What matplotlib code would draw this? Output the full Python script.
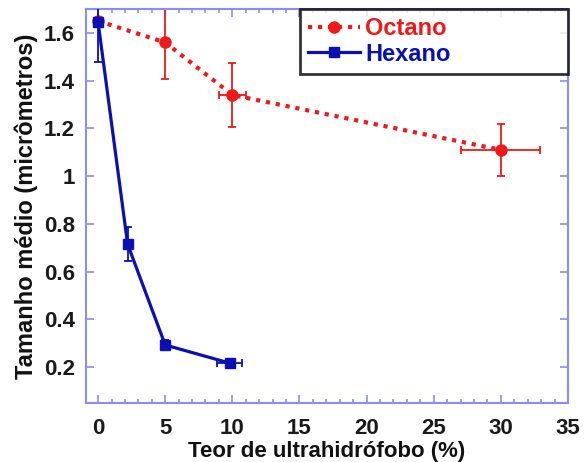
import numpy as np
import matplotlib.pyplot as plt
from matplotlib.ticker import MultipleLocator

# Octano series
oct_x = [0, 5, 10, 30]
oct_y = [1.65, 1.56, 1.34, 1.11]
oct_yerr = [0.0, 0.155, 0.135, 0.11]
oct_xerr = [0.0, 0.0, 1.0, 2.95]

# Hexano series
hex_x = [0, 2.2, 5, 9.8]
hex_y = [1.645, 0.715, 0.293, 0.217]
hex_yerr = [0.165, 0.07, 0.02, 0.015]
hex_xerr = [0.0, 0.0, 0.3, 0.95]

y_ticks = [0.2, 0.4, 0.6, 0.8, 1.0, 1.2, 1.4, 1.6]
y_ticklabels = ['0.2', '0.4', '0.6', '0.8', '1', '1.2', '1.4', '1.6']

plt.rcParams['font.family'] = ['Liberation Sans', 'DejaVu Sans']
plt.rcParams['font.weight'] = 'bold'

red = '#f01818'
blue = '#0a10b4'
spine_c = '#8c8cf5'

fig = plt.figure(figsize=(5.84, 4.62), dpi=100)
ax = fig.add_axes([86 / 584, 1 - 403 / 462, (568 - 86) / 584, (403 - 9) / 462])

# error bars first, then the lines with markers (legend uses the lines only)
ax.errorbar(oct_x, oct_y, yerr=oct_yerr, xerr=oct_xerr, fmt='none', ecolor=red,
            capsize=3, elinewidth=1.3, capthick=1.3, zorder=2)
ax.errorbar(hex_x, hex_y, yerr=hex_yerr, xerr=hex_xerr, fmt='none', ecolor=blue,
            capsize=3, elinewidth=1.3, capthick=1.3, zorder=3)
ax.plot(oct_x, oct_y, color=red, ls=(0, (1, 1.4)), lw=3, marker='o', ms=8,
        label='Octano', zorder=2)
ax.plot(hex_x, hex_y, color=blue, ls='-', lw=2.3, marker='s', ms=7,
        label='Hexano', zorder=3)

ax.set_xlim(-0.9, 35)
ax.set_ylim(0.05, 1.7)
ax.xaxis.set_major_locator(MultipleLocator(5))
ax.xaxis.set_minor_locator(MultipleLocator(1))
ax.set_yticks(y_ticks)
ax.set_yticklabels(y_ticklabels)

for s in ax.spines.values():
    s.set_color(spine_c)
    s.set_linewidth(1.5)
ax.tick_params(which='both', direction='in', top=True, right=True, colors=spine_c,
               labelcolor='#1a1a1a', labelsize=16, width=1.2)
ax.tick_params(which='major', length=6)
ax.tick_params(axis='y', which='major', pad=8)
ax.tick_params(axis='x', which='major', pad=11)
ax.tick_params(which='minor', length=3)

ax.set_xlabel('Teor de ultrahidrófobo (%)', fontsize=16, fontweight='bold',
              color='#111111', labelpad=1)
ax.set_ylabel('Tamanho médio (micrômetros)', fontsize=17, fontweight='bold',
              color='#111111', labelpad=4)

leg = ax.legend(loc='upper left', bbox_to_anchor=(0.444, 0.845, 0.556, 0.155),
                mode='expand', fontsize=17, frameon=True, fancybox=False,
                borderaxespad=0.0, handlelength=2.2, handletextpad=0.2,
                borderpad=0.35, labelspacing=0.1)
leg.get_frame().set_edgecolor('black')
leg.get_frame().set_linewidth(2)
for t, c in zip(leg.get_texts(), [red, blue]):
    t.set_color(c)

fig.savefig('out.png', dpi=100)
